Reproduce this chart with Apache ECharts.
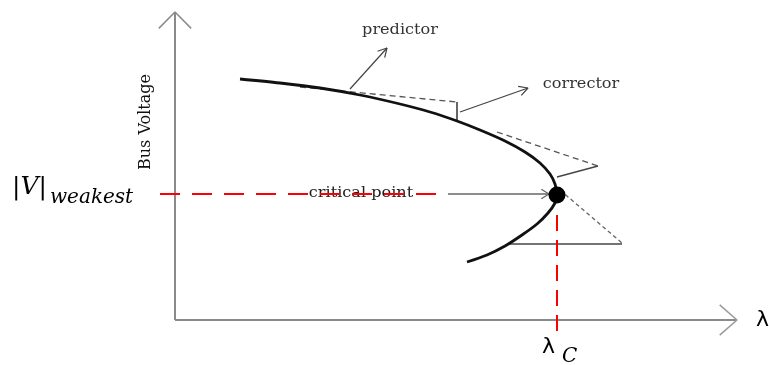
<!DOCTYPE html>
<html>
<head>
<meta charset="utf-8">
<script src="https://cdn.jsdelivr.net/npm/echarts@6/dist/echarts.min.js"></script>
<style>
  html, body { margin: 0; background: #fff; }
  #chart { width: 769px; height: 365px; }
</style>
</head>
<body>
<div id="chart"></div>
<script>
// diagram units, origin at the corner of the two axes (x = load, y = bus voltage)
const pvCurve = [[65, 241], [105, 237], [145, 232], [185, 225], [225, 216], [255, 208],
  [282, 199], [305, 190], [330, 179], [350, 168], [365, 157], [375, 146], [380, 136],
  [382, 125], [380, 117], [373, 107], [362, 96], [347, 85], [330, 74], [312, 65], [292, 58]]
const predictor1 = [[125, 233], [282, 218]]
const corrector1 = [[282, 218], [282, 199]]
const predictor2 = [[322, 188], [423, 154]]
const corrector2 = [[423, 154], [382, 143]]
const predictor3 = [[385, 130], [447, 77]]
const corrector3 = [[447, 76], [334, 76]]
const predictorPointer = [[175, 231], [212, 272]]
const correctorPointer = [[285, 208], [353, 232]]
const criticalPointer = [[273, 126], [374, 126]]
const criticalPoint = [[382, 125]]
const weakestGuide = [[-15, 126], [273, 126]]
const lambdaCGuide = [[382, 105], [382, -12]]
const yAxisLine = [[0, 0], [0, 308]]
const xAxisLine = [[0, 0], [562, 0]]

const ORIGIN_X = 175
const ORIGIN_Y = 320

function toPx(x, y) {
  return [x + ORIGIN_X, ORIGIN_Y - y]
}

// open "V" arrow head at the end of a segment
function head(seg, len, ang) {
  const [a, b] = seg
  const dx = b[0] - a[0]
  const dy = b[1] - a[1]
  const d = Math.sqrt(dx * dx + dy * dy)
  const ux = dx / d
  const uy = dy / d
  const wing = s => [
    b[0] - len * (ux * Math.cos(s * ang) - uy * Math.sin(s * ang)),
    b[1] - len * (ux * Math.sin(s * ang) + uy * Math.cos(s * ang))
  ]
  return [wing(1), b, wing(-1)]
}

function line(data, color, width, type, extra) {
  return Object.assign({
    type: 'line',
    data: data,
    symbol: 'none',
    silent: true,
    animation: false,
    lineStyle: { color: color, width: width, type: type || 'solid' }
  }, extra || {})
}

function text(x, y, str, font, opts, el) {
  const p = toPx(x, y)
  return Object.assign({
    type: 'text',
    x: p[0],
    y: p[1],
    z: 1,
    style: Object.assign({
      text: str,
      font: font,
      fill: '#222',
      align: 'center',
      verticalAlign: 'middle'
    }, opts || {})
  }, el || {})
}

const chart = echarts.init(document.getElementById('chart'))

chart.setOption({
  backgroundColor: '#fff',
  animation: false,
  grid: { left: 0, right: 0, top: 0, bottom: 0 },
  xAxis: { type: 'value', min: -ORIGIN_X, max: 769 - ORIGIN_X, show: false },
  yAxis: { type: 'value', min: ORIGIN_Y - 365, max: ORIGIN_Y, show: false },
  series: [
    line(yAxisLine, '#8a8a8a', 2),
    line(head(yAxisLine, 23, 0.78), '#8a8a8a', 1.5),
    line(xAxisLine, '#8a8a8a', 2),
    line(head(xAxisLine, 23, 0.72), '#9a9a9a', 1.5),

    line(predictor1, '#555', 1.3, [6, 4]),
    line(corrector1, '#333', 1.5),
    line(predictor2, '#555', 1.3, [6, 4]),
    line(corrector2, '#444', 1.3),
    line(predictor3, '#666', 1.3, [4, 3]),
    line(corrector3, '#444', 1.3),

    line(predictorPointer, '#444', 1.2),
    line(head(predictorPointer, 10, 0.5), '#444', 1.2),
    line(correctorPointer, '#444', 1.2),
    line(head(correctorPointer, 10, 0.5), '#444', 1.2),
    line(criticalPointer, '#666', 1.5),
    line(head(criticalPointer, 9, 0.55), '#666', 1.3),

    line(pvCurve, '#111', 2.8, 'solid', { smooth: 0.3, z: 3 }),
    {
      type: 'scatter',
      data: criticalPoint,
      symbolSize: 17,
      silent: true,
      z: 4,
      itemStyle: { color: '#000', opacity: 1 }
    },

    line(weakestGuide, '#ff0000', 2, [20, 12], { z: 6 }),
    line(lambdaCGuide, '#ff0000', 2, [16, 9], { z: 6 })
  ],
  graphic: [
    text(225, 290, 'predictor', '14px "DejaVu Serif"', { fill: '#333' }, { scaleX: 1.15 }),
    text(406, 236, 'corrector', '14px "DejaVu Serif"', { fill: '#333' }, { scaleX: 1.15 }),
    text(186, 127, 'critical point', '14px "DejaVu Serif"', {}, { scaleX: 1.15 }),
    text(-29, 198, 'Bus Voltage', '16px "DejaVu Serif"', { fill: '#111' }, { rotation: Math.PI / 2 }),
    text(-163, 133, '|V|', 'italic 25px "DejaVu Serif"', { align: 'left', fill: '#000' }),
    text(-125, 122, 'weakest', 'italic 20px "DejaVu Serif"', { align: 'left', fill: '#000' }),
    text(581, 0, 'λ', '22px "DejaVu Sans"', { align: 'left', fill: '#000' }),
    text(367, -27, 'λ', '22px "DejaVu Sans"', { align: 'left', fill: '#000' }),
    text(387, -37, 'C', 'italic 20px "DejaVu Serif"', { align: 'left', fill: '#000' })
  ]
})
</script>
</body>
</html>
